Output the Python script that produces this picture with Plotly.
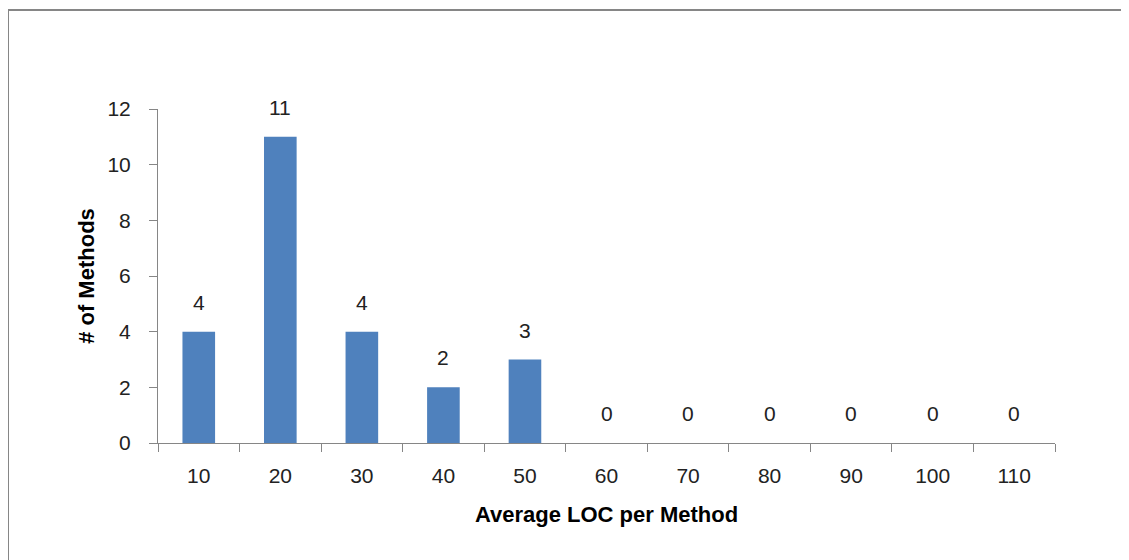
import plotly.graph_objects as go

categories = ["10", "20", "30", "40", "50", "60", "70", "80", "90", "100", "110"]
counts = [4, 11, 4, 2, 3, 0, 0, 0, 0, 0, 0]
y_ticks = [0, 2, 4, 6, 8, 10, 12]

# page has an 8px body margin, so the figure is slightly smaller than the window
W, H = 1121, 552
L, R, T, B = 150, 74, 101, 117
pw, ph = W - L - R, H - T - B

tick_font = dict(family="Liberation Sans", size=21, color="#222222")
title_font = dict(family="Liberation Sans", size=22, color="#000000")

fig = go.Figure(go.Bar(
    x=categories, y=counts,
    marker=dict(color="#4F81BD", line=dict(width=0)),
    hoverinfo="x+y",
))

# data labels: on a category axis annotations use the category index
for i, v in enumerate(counts):
    fig.add_annotation(
        x=i, y=v, text=str(v), showarrow=False,
        xref="x", yref="y", yanchor="bottom", yshift=16,
        font=tick_font,
    )

fig.update_layout(
    width=W, height=H,
    margin=dict(l=L, r=R, t=T, b=B, pad=0),
    plot_bgcolor="white", paper_bgcolor="white",
    bargap=0.6, showlegend=False, font=tick_font,
    xaxis=dict(
        type="category", range=[-0.5, len(categories) - 0.5],
        showgrid=False, showline=True, linecolor="#868686", linewidth=1,
        ticks="outside", tickson="boundaries", ticklen=8, tickcolor="#868686",
        tickfont=tick_font, ticklabelstandoff=14, tickangle=0,
        title=dict(text="<b>Average LOC per Method</b>", font=title_font, standoff=20),
    ),
    yaxis=dict(
        range=[0, 12], tickvals=y_ticks, showgrid=False, showline=True, linecolor="#868686", linewidth=1,
        ticks="outside", ticklen=8, tickcolor="#868686", tickfont=tick_font, zeroline=False,
        ticklabelstandoff=14,
        title=dict(text="<b># of Methods</b>", font=title_font, standoff=6),
    ),
    shapes=[dict(
        type="rect", xref="paper", yref="paper",
        x0=(0 - L) / pw, x1=(W + 10 - L) / pw,
        y0=(T + ph - (H + 10)) / ph, y1=(T + ph - 2) / ph,
        line=dict(color="#868686", width=2), fillcolor="rgba(0,0,0,0)", layer="below",
    )],
)

fig.write_html("out.html")
